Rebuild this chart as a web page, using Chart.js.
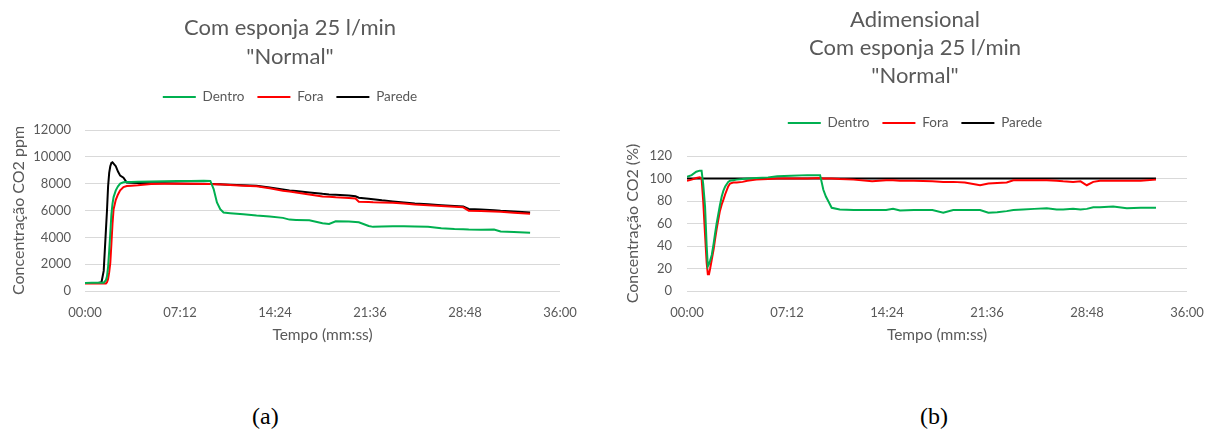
<!DOCTYPE html>
<html lang="pt">
<head>
    <meta charset="UTF-8">
    <title>Com esponja 25 l/min "Normal"</title>
    <script src="https://cdn.jsdelivr.net/npm/chart.js"></script>
    <style>
        body {
            margin: 0;
            background: #fff;
        }
        #quadro {
            position: relative;
            width: 1213px;
            height: 434px;
            overflow: hidden;
        }
        canvas {
            position: absolute;
            top: 0;
        }
        #graficoA { left: 0; }
        #graficoB { left: 612px; }
        .legenda {
            position: absolute;
            top: 404px;
            font-family: "Liberation Serif", "Times New Roman", serif;
            font-size: 24px;
            line-height: 24px;
            color: #000;
        }
    </style>
</head>
<body>
    <div id="quadro">
        <canvas id="graficoA" width="600" height="351"></canvas>
        <canvas id="graficoB" width="601" height="351"></canvas>
        <div class="legenda" style="left:252px">(a)</div>
        <div class="legenda" style="left:920px">(b)</div>
    </div>

    <script>
        // eixos
        var rotulosTempo = ['00:00', '07:12', '14:24', '21:36', '28:48', '36:00'];
        var rotulosYA = ['0', '2000', '4000', '6000', '8000', '10000', '12000'];
        var rotulosYB = ['0', '20', '40', '60', '80', '100', '120'];

        // grafico (a) - tempo em segundos, concentracao em ppm
        var tempoA = [0, 30, 60, 75, 85, 95, 100, 105, 110, 115, 120, 125, 130, 140, 150,
            160, 175, 190, 210, 240, 300, 360, 420, 480, 540, 570, 585, 600, 615, 630,
            660, 720, 780, 840, 900, 930, 960, 1020, 1080, 1110, 1140, 1200, 1230, 1245, 1290,
            1310, 1350, 1400, 1450, 1500, 1560, 1620, 1680, 1720, 1745, 1800, 1860, 1890, 1950, 2024];
        var dentroA = [600, 620, 620, 620, 620, 800, 1100, 1800, 3000, 4300, 5700, 6500, 7000, 7500, 7800,
            8000, 8100, 8120, 8130, 8150, 8170, 8180, 8200, 8200, 8210, 8200, 7600, 6600, 6100, 5850,
            5800, 5720, 5620, 5560, 5450, 5320, 5300, 5280, 5050, 5000, 5200, 5180, 5150, 5120, 4850,
            4780, 4800, 4830, 4820, 4800, 4780, 4680, 4620, 4600, 4580, 4570, 4580, 4430, 4400, 4350];
        var foraA = [550, 550, 550, 550, 550, 560, 650, 900, 1400, 2100, 3500, 5000, 6100, 6800, 7200,
            7500, 7750, 7820, 7850, 7880, 7980, 8000, 8000, 7990, 7980, 7970, 7960, 7950, 7940, 7930,
            7900, 7850, 7800, 7650, 7480, 7410, 7350, 7200, 7040, 7020, 6980, 6940, 6900, 6660, 6640,
            6620, 6600, 6580, 6520, 6450, 6390, 6330, 6280, 6240, 5990, 5970, 5930, 5900, 5840, 5760];
        var paredeA = [600, 600, 600, 650, 1500, 4500, 6000, 7800, 8800, 9300, 9550, 9600, 9500, 9300, 8900,
            8600, 8450, 8080, 8060, 8050, 8040, 8030, 8020, 8000, 7990, 7980, 7970, 7960, 7950, 7940,
            7920, 7880, 7840, 7720, 7570, 7500, 7450, 7350, 7240, 7200, 7180, 7120, 7060, 6950, 6880,
            6840, 6760, 6680, 6600, 6530, 6470, 6400, 6340, 6290, 6120, 6080, 6020, 5980, 5930, 5850];

        // grafico (b) - adimensional (%)
        var tempoB = [0, 20, 40, 55, 63, 70, 78, 85, 90, 95, 100, 107, 115, 122, 128,
            135, 142, 150, 157, 165, 178, 186, 200, 215, 240, 260, 300, 350, 390, 450,
            520, 575, 589, 600, 610, 625, 660, 720, 800, 860, 890, 920, 980, 1060, 1107,
            1150, 1200, 1266, 1302, 1340, 1381, 1410, 1452, 1500, 1554, 1597, 1625, 1668, 1700, 1727,
            1755, 1784, 1841, 1900, 1960, 2026];
        var dentroB = [101.5, 103, 106, 107, 107, 95, 75, 40, 22, 24, 27, 32, 42, 52, 60,
            68, 76, 84, 89, 93, 97, 98, 98.5, 99, 99.5, 100, 100.5, 101, 102, 102.5,
            103, 103, 90, 84, 80, 74, 72.5, 72, 72, 72, 73, 71.5, 72, 72, 69.5,
            72, 72, 72, 69.5, 70, 71, 72, 72.5, 73, 73.5, 72.5, 72.5, 73, 72.5, 73,
            74.5, 74.5, 75, 73.5, 74, 74];
        var foraB = [98, 99, 100.5, 101, 100, 80, 50, 25, 15, 15, 20, 28, 37, 47, 55,
            63, 71, 77, 81, 86, 93, 95.5, 96.5, 96.5, 97, 98, 99, 99.5, 100, 100,
            100, 100.5, 100, 100, 100, 100, 99.5, 99, 97.5, 98.5, 98.5, 98, 98, 97.5, 97,
            97, 96.5, 94, 95.5, 96, 96.5, 98.5, 98.5, 98.5, 98.5, 98, 97.5, 97, 97.5, 94,
            97, 98, 98, 98, 98, 99];
        var tempoParedeB = [0, 500, 1000, 1500, 2026];
        var paredeB = [100, 100, 100, 100, 100];

        var corTexto = '#595959';
        var fonte = 'Lato, "Open Sans", sans-serif';

        function pares(tempos, valores) {
            return tempos.map(function (t, i) {
                return { x: t, y: valores[i] };
            });
        }

        // espaco extra entre a legenda e a area do grafico
        var espacoLegenda = {
            id: 'espacoLegenda',
            beforeInit: function (chart) {
                var fitOriginal = chart.legend.fit;
                chart.legend.fit = function () {
                    fitOriginal.bind(chart.legend)();
                    this.height += 16.25;
                };
            }
        };

        function criarGrafico(id, op) {
            var series = [
                { label: 'Dentro', data: op.dentro, borderColor: '#00B050' },
                { label: 'Fora', data: op.fora, borderColor: '#FF0000' },
                { label: 'Parede', data: op.parede, borderColor: '#000000' }
            ];
            return new Chart(document.getElementById(id), {
                type: 'line',
                data: {
                    datasets: series.map(function (s) {
                        return {
                            label: s.label,
                            data: s.data,
                            borderColor: s.borderColor,
                            backgroundColor: s.borderColor,
                            borderWidth: 2,
                            pointRadius: 0,
                            tension: 0,
                            fill: false
                        };
                    })
                },
                options: {
                    responsive: false,
                    animation: false,
                    layout: { padding: { left: op.padEsq, right: op.padDir, top: 0, bottom: 0 } },
                    plugins: {
                        title: {
                            display: true,
                            text: op.titulo,
                            color: corTexto,
                            font: { family: fonte, size: 22, weight: 'normal', lineHeight: op.alturaLinha / 22 },
                            padding: { top: op.tituloTopo, bottom: op.tituloBase }
                        },
                        legend: {
                            labels: {
                                usePointStyle: true,
                                pointStyle: 'line',
                                pointStyleWidth: 33,
                                color: corTexto,
                                font: { family: fonte, size: 13.5 },
                                padding: 13
                            }
                        },
                        tooltip: { enabled: false }
                    },
                    scales: {
                        x: {
                            type: 'linear',
                            min: 0,
                            max: 2160,
                            grid: { display: false },
                            border: { display: false },
                            ticks: {
                                stepSize: 432,
                                autoSkip: false,
                                maxRotation: 0,
                                padding: 6,
                                color: corTexto,
                                font: { family: fonte, size: 13 },
                                callback: function (v, i) { return rotulosTempo[i]; }
                            },
                            title: {
                                display: true,
                                text: 'Tempo (mm:ss)',
                                color: corTexto,
                                font: { family: fonte, size: 15.5 },
                                padding: { top: 0, bottom: 6.7 }
                            },
                            afterFit: function (s) { s.height = 60; }
                        },
                        y: {
                            min: 0,
                            max: op.yMax,
                            grid: { color: '#d9d9d9', drawTicks: false },
                            border: { display: false },
                            ticks: {
                                stepSize: op.yPasso,
                                padding: op.yPad,
                                color: corTexto,
                                font: { family: fonte, size: 13 },
                                callback: function (v, i) { return op.rotulosY[i]; }
                            },
                            title: {
                                display: true,
                                text: op.tituloY,
                                color: corTexto,
                                font: { family: fonte, size: 16 },
                                padding: { top: op.yTituloPad, bottom: 0 }
                            },
                            afterFit: function (s) { s.width = op.yLargura; }
                        }
                    }
                },
                plugins: [espacoLegenda]
            });
        }

        criarGrafico('graficoA', {
            titulo: ['Com esponja 25 l/min', '"Normal"'],
            alturaLinha: 29,
            tituloTopo: 13.5,
            tituloBase: 5.75,
            padEsq: 20,
            padDir: 40,
            yLargura: 65,
            yPad: 14,
            yTituloPad: -10.6,
            yMax: 12000,
            yPasso: 2000,
            rotulosY: rotulosYA,
            tituloY: 'Concentração CO2 ppm',
            dentro: pares(tempoA, dentroA),
            fora: pares(tempoA, foraA),
            parede: pares(tempoA, paredeA)
        });

        criarGrafico('graficoB', {
            titulo: ['Adimensional', 'Com esponja 25 l/min', '"Normal"'],
            alturaLinha: 28,
            tituloTopo: 6,
            tituloBase: 13.25,
            padEsq: 31,
            padDir: 26,
            yLargura: 44,
            yPad: 15,
            yTituloPad: -19.6,
            yMax: 120,
            yPasso: 20,
            rotulosY: rotulosYB,
            tituloY: 'Concentração CO2 (%)',
            dentro: pares(tempoB, dentroB),
            fora: pares(tempoB, foraB),
            parede: pares(tempoParedeB, paredeB)
        });
    </script>
</body>
</html>
